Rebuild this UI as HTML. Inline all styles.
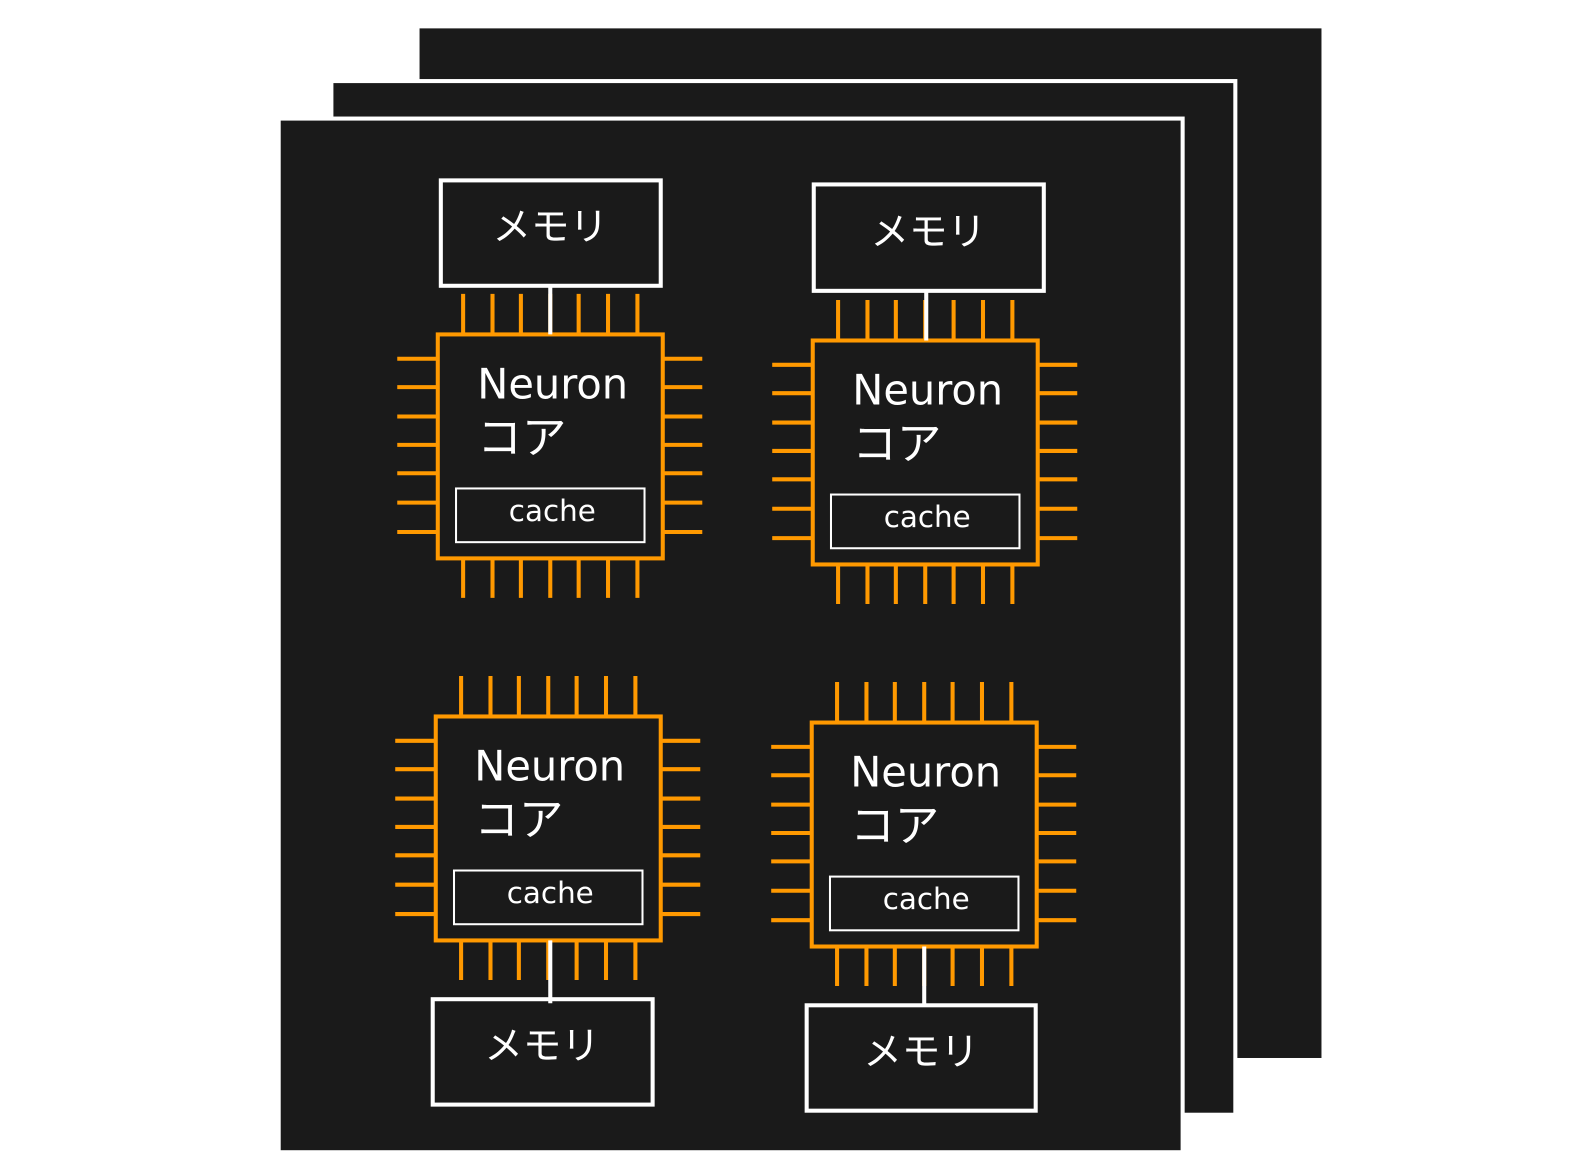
<!DOCTYPE html>
<html><head><meta charset="utf-8"><style>html,body{margin:0;padding:0;background:#fff;overflow:hidden}svg{display:block}
text{font-family:"DejaVu Sans","Liberation Sans","Noto Sans CJK JP",sans-serif;fill:#fff}
.jp{font-family:"Liberation Sans","Noto Sans CJK JP",sans-serif}</style></head><body>
<svg width="1589" height="1172" viewBox="0 0 1589 1172" xmlns="http://www.w3.org/2000/svg">
<defs>
<g id="chip">
<g stroke="#ff9900" stroke-width="4">
<path d="M25 -40V0M54 -40V0M82 -40V0M139 -40V0M168 -40V0M197 -40V0M111 -40V0"/>
<path d="M25 221V260M54 221V260M82 221V260M111 221V260M139 221V260M168 221V260M197 221V260"/>
<path d="M-40 24H0M-40 52H0M-40 81H0M-40 109H0M-40 137H0M-40 166H0M-40 195H0"/>
<path d="M222 24H261M222 52H261M222 81H261M222 109H261M222 137H261M222 166H261M222 195H261"/>
<rect x="0" y="0" width="222" height="221" fill="#1a1a1a"/>
</g>
<rect x="18" y="152" width="186" height="53" fill="none" stroke="#fff" stroke-width="2"/>
</g>
</defs>
<g transform="scale(1.0134)">
<rect x="414" y="28" width="890" height="1016" fill="#1a1a1a"/>
<rect x="327" y="80" width="892" height="1020" fill="#1a1a1a" stroke="#fff" stroke-width="4"/>
<rect x="275" y="117" width="892" height="1020" fill="#1a1a1a" stroke="#fff" stroke-width="4"/>

<g stroke="#fff" stroke-width="4" fill="#1a1a1a">
<rect x="435" y="178" width="217" height="104"/>
<rect x="803" y="182" width="227" height="105"/>
<rect x="427" y="986" width="217" height="104"/>
<rect x="796" y="992" width="226" height="104"/>
</g>

<use href="#chip" x="432" y="330"/>
<use href="#chip" x="802" y="336"/>
<use href="#chip" x="430" y="707"/>
<use href="#chip" x="801" y="713"/>

<g stroke="#fff" stroke-width="4">
<path d="M543 282V330M914 287V336M543 928V990M912 934V992"/>
</g>

<g font-size="38" text-anchor="middle" class="jp">
<text class="jp" x="543" y="237">メモリ</text>
<text class="jp" x="916" y="242">メモリ</text>
<text class="jp" x="535" y="1045">メモリ</text>
<text class="jp" x="909" y="1051">メモリ</text>
</g>

<g font-size="41">
<text x="471" y="393">Neuron</text><text class="jp" font-size="44" x="471" y="447">コア</text>
<text x="841" y="399">Neuron</text><text class="jp" font-size="44" x="841" y="453">コア</text>
<text x="468" y="770">Neuron</text><text class="jp" font-size="44" x="468" y="824">コア</text>
<text x="839" y="776">Neuron</text><text class="jp" font-size="44" x="839" y="830">コア</text>
</g>
<g font-size="29" text-anchor="middle">
<text x="545" y="514">cache</text>
<text x="915" y="520">cache</text>
<text x="543" y="891">cache</text>
<text x="914" y="897">cache</text>
</g>
</g>
</svg>
</body></html>
